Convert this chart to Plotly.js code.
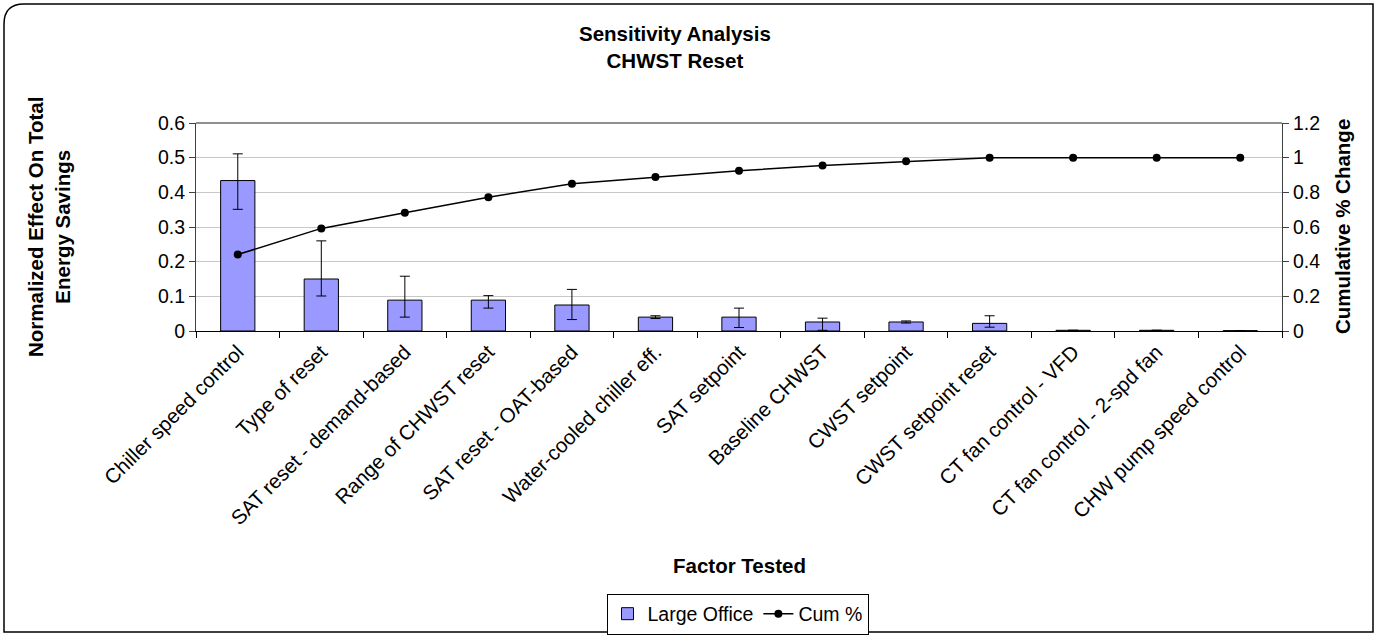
<!DOCTYPE html>
<html>
<head>
<meta charset="utf-8">
<script src="https://cdn.plot.ly/plotly-3.0.1.min.js"></script>
<style>
html,body{margin:0;padding:0;background:#fff;}
#chart{width:1378px;height:635px;}
</style>
</head>
<body>
<div id="chart"></div>
<script>
const categories = ["Chiller speed control","Type of reset","SAT reset - demand-based","Range of CHWST reset","SAT reset - OAT-based","Water-cooled chiller eff.","SAT setpoint","Baseline CHWST","CWST setpoint","CWST setpoint reset","CT fan control - VFD","CT fan control - 2-spd fan","CHW pump speed control"];
const effect = [0.434,0.150,0.089,0.089,0.075,0.040,0.040,0.026,0.026,0.022,0.002,0.002,0.001];
const errPlus = [0.077,0.110,0.069,0.013,0.045,0.004,0.026,0.011,0.003,0.022,0,0,0];
const errMinus = [0.083,0.049,0.049,0.023,0.042,0.004,0.030,0.024,0.003,0.011,0,0,0];
const cumPct = [0.441,0.592,0.682,0.772,0.849,0.888,0.924,0.955,0.979,1,1,1,1];
const leftTicks = [0,0.1,0.2,0.3,0.4,0.5,0.6];
const rightTicks = [0,0.2,0.4,0.6,0.8,1,1.2];

const W = 1378, H = 635;
const M = {l:196, r:96, t:123, b:304, autoexpand: false};
const PW = W - M.l - M.r, PH = H - M.t - M.b;
const px = x => (x - M.l) / PW;
const py = y => (H - M.b - y) / PH;

const FONT = "Liberation Sans, Arial, Helvetica, sans-serif";

const traces = [
  {
    type: "bar",
    name: "Large Office",
    x: categories,
    y: effect,
    marker: {color: "#9999FF", line: {color: "#000000", width: 1}},
    error_y: {type: "data", symmetric: false, array: errPlus, arrayminus: errMinus, color: "#000000", thickness: 1, width: 5},
    yaxis: "y"
  },
  {
    type: "scatter",
    mode: "lines+markers",
    name: "Cum %",
    x: categories,
    y: cumPct,
    line: {color: "#000000", width: 1.5},
    marker: {color: "#000000", size: 8},
    yaxis: "y2"
  }
];

// rounded outer frame
const x0 = px(4), x1 = px(1373), yT = py(4), yB = py(632);
const rx = 20 / PW, ry = 20 / PH;
const framePath = `M ${x0 + rx},${yT} L ${x1},${yT} L ${x1},${yB} L ${x0},${yB} L ${x0},${yT - ry} Q ${x0},${yT} ${x0 + rx},${yT} Z`;

const layout = {
  width: W, height: H,
  margin: M,
  paper_bgcolor: "#ffffff",
  plot_bgcolor: "#ffffff",
  font: {family: FONT, size: 19, color: "#000000"},
  showlegend: true,
  bargap: 0.59,
  xaxis: {
    type: "category",
    range: [-0.5, categories.length - 0.5],
    autorange: false,
    tickangle: -45,
    ticks: "outside",
    tickson: "boundaries",
    ticklen: 6,
    tickcolor: "#000000",
    showline: true,
    linecolor: "#000000",
    linewidth: 1,
    showgrid: false,
    tickfont: {family: FONT, size: 20.5, color: "#000000"},
    fixedrange: true
  },
  yaxis: {
    range: [0, 0.6],
    tickvals: leftTicks,
    ticktext: leftTicks.map(String),
    ticks: "outside",
    ticklen: 6,
    tickcolor: "#404040",
    showline: true,
    linecolor: "#404040",
    linewidth: 1,
    showgrid: true,
    gridcolor: "#c8c8c8",
    gridwidth: 1,
    zeroline: false,
    tickfont: {family: FONT, size: 19.5, color: "#000000"}
  },
  yaxis2: {
    overlaying: "y",
    side: "right",
    range: [0, 1.2],
    tickvals: rightTicks,
    ticktext: rightTicks.map(String),
    ticks: "outside",
    ticklen: 6,
    tickcolor: "#404040",
    showline: true,
    linecolor: "#404040",
    linewidth: 1,
    showgrid: false,
    zeroline: false,
    tickfont: {family: FONT, size: 19.5, color: "#000000"}
  },
  legend: {
    orientation: "h",
    x: px(737.5), xanchor: "center",
    y: py(614), yanchor: "middle",
    bordercolor: "#000000", borderwidth: 1,
    bgcolor: "#ffffff",
    font: {family: FONT, size: 19.5, color: "#000000"},
    itemwidth: 30,
    tracegroupgap: 0
  },
  shapes: [
    {type: "line", xref: "paper", yref: "paper", x0: 0, x1: 1, y0: 1, y1: 1, line: {color: "#909090", width: 2}},
    {type: "path", xref: "paper", yref: "paper", path: framePath, line: {color: "#000000", width: 1.5}, fillcolor: "rgba(0,0,0,0)", layer: "above"}
  ],
  annotations: [
    {text: "<b>Sensitivity Analysis</b><br><b>CHWST Reset</b>", xref: "paper", yref: "paper", x: px(675), y: py(47), xanchor: "center", yanchor: "middle", showarrow: false, font: {family: FONT, size: 20.5, color: "#000000"}},
    {text: "<b>Normalized Effect On Total</b><br><b>Energy Savings</b>", xref: "paper", yref: "paper", x: px(49), y: py(227), xanchor: "center", yanchor: "middle", textangle: -90, showarrow: false, font: {family: FONT, size: 20.5, color: "#000000"}},
    {text: "<b>Cumulative % Change</b>", xref: "paper", yref: "paper", x: px(1342), y: py(227), xanchor: "center", yanchor: "middle", textangle: -90, showarrow: false, font: {family: FONT, size: 20.5, color: "#000000"}},
    {text: "<b>Factor Tested</b>", xref: "paper", yref: "paper", x: px(739), y: py(565), xanchor: "center", yanchor: "middle", showarrow: false, font: {family: FONT, size: 20.5, color: "#000000"}}
  ]
};

Plotly.newPlot("chart", traces, layout, {displayModeBar: false, staticPlot: true});
</script>
</body>
</html>
